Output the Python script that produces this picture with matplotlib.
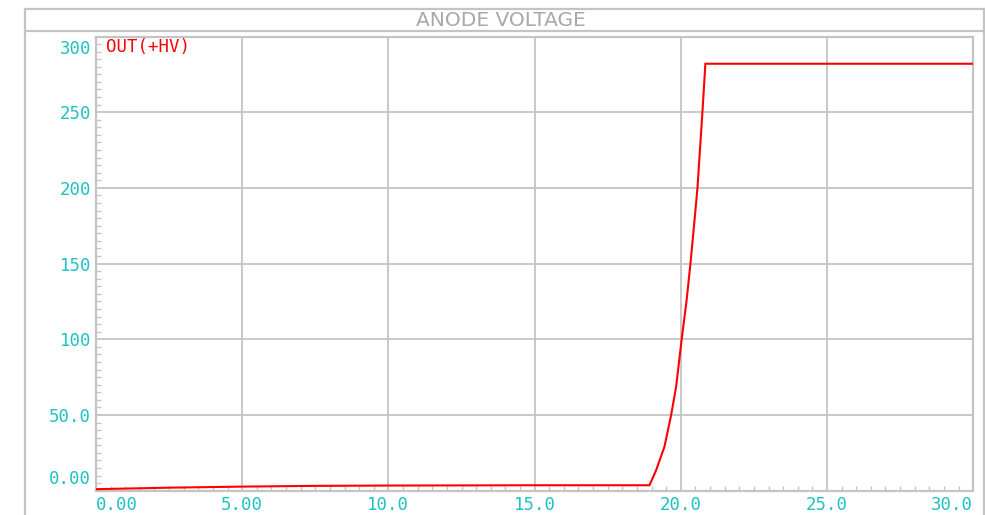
import matplotlib
matplotlib.use("Agg")
import matplotlib.pyplot as plt
from matplotlib.lines import Line2D
from matplotlib.transforms import ScaledTranslation
from matplotlib.ticker import MultipleLocator

# ---- data ----
time_us = [0.0, 2.5, 5.0, 7.5, 10.0, 15.0, 18.93, 19.16, 19.44, 19.67, 19.84,
           20.03, 20.2, 20.33, 20.47, 20.57, 20.67, 20.74, 20.84, 30.0]
anode_v = [1.0, 2.0, 2.7, 3.2, 3.4, 3.6, 3.6, 13.7, 29.0, 50.0, 68.7,
           100.0, 126.0, 150.0, 178.8, 200.0, 229.5, 250.0, 282.0, 282.0]

x_ticks = [0, 5, 10, 15, 20, 25, 30]
x_labels = ["0.00", "5.00", "10.0", "15.0", "20.0", "25.0", "30.0"]
y_ticks = [0, 50, 100, 150, 200, 250, 300]
y_labels = ["0.00", "50.0", "100", "150", "200", "250", "300"]
title = "ANODE VOLTAGE"
trace_name = "OUT(+HV)"

GRID = "#c4c4c4"
CYAN = "#1fc2c2"
RED = "#ff0000"
TITLE_C = "#a8a8a8"
MONO = ["DejaVu Sans Mono"]

W, H = 985, 515
fig = plt.figure(figsize=(W / 100, H / 100), dpi=100)
fig.patch.set_facecolor("white")

def fx(px):
    return px / W

def fy(py):
    return 1 - py / H

# outer frame and title band
for (x0, y0, x1, y1) in [(25, 9, 984, 9), (25, 30.5, 984, 30.5),
                         (25, 9, 25, 515), (984, 9, 984, 515)]:
    fig.add_artist(Line2D([fx(x0), fx(x1)], [fy(y0), fy(y1)],
                          transform=fig.transFigure, color=GRID, lw=1.6))

fig.text(fx(501), fy(20), title, ha="center", va="center", color=TITLE_C,
         family=["DejaVu Sans"], fontsize=14.5)

left, right, top, bottom = 96, 973.2, 36.5, 490.7
ax = fig.add_axes([fx(left), fy(bottom), fx(right) - fx(left), (bottom - top) / H])

ax.plot(time_us, anode_v, color=RED, lw=1.5, solid_joinstyle="miter", zorder=3)

ax.set_xlim(0, 30)
ax.set_ylim(0, 300)
ax.set_xticks(x_ticks)
ax.set_xticklabels(x_labels)
ax.set_yticks(y_ticks)
ax.set_yticklabels(y_labels)
ax.xaxis.set_minor_locator(MultipleLocator(0.5))
ax.yaxis.set_minor_locator(MultipleLocator(5))

ax.grid(True, which="major", color=GRID, lw=1.3)
ax.set_axisbelow(True)
for s in ax.spines.values():
    s.set_color(GRID)
    s.set_linewidth(1.6)

ax.tick_params(which="major", length=0, pad=3.5, labelsize=12.5, labelcolor=CYAN)
ax.tick_params(which="minor", direction="in", length=3.5, width=1.0, color=GRID)
ax.tick_params(axis="y", which="minor", left=True, right=False)
ax.tick_params(axis="x", which="minor", bottom=True, top=False)

for lab in ax.get_xticklabels() + ax.get_yticklabels():
    lab.set_family(MONO)

xl = ax.get_xticklabels()
xl[0].set_ha("left")
xl[-1].set_ha("right")
yl = ax.get_yticklabels()
yl[0].set_va("bottom")
yl[0].set_transform(yl[0].get_transform() + ScaledTranslation(0, 3 / 100, fig.dpi_scale_trans))
yl[-1].set_va("top")
yl[-1].set_transform(yl[-1].get_transform() + ScaledTranslation(0, -3 / 100, fig.dpi_scale_trans))

ax.text(10 / (right - left), 1 - 10 / (bottom - top), trace_name, transform=ax.transAxes,
        ha="left", va="center", color=RED, fontsize=12.5, family=MONO)

fig.savefig("out.png", dpi=100, facecolor="white")
